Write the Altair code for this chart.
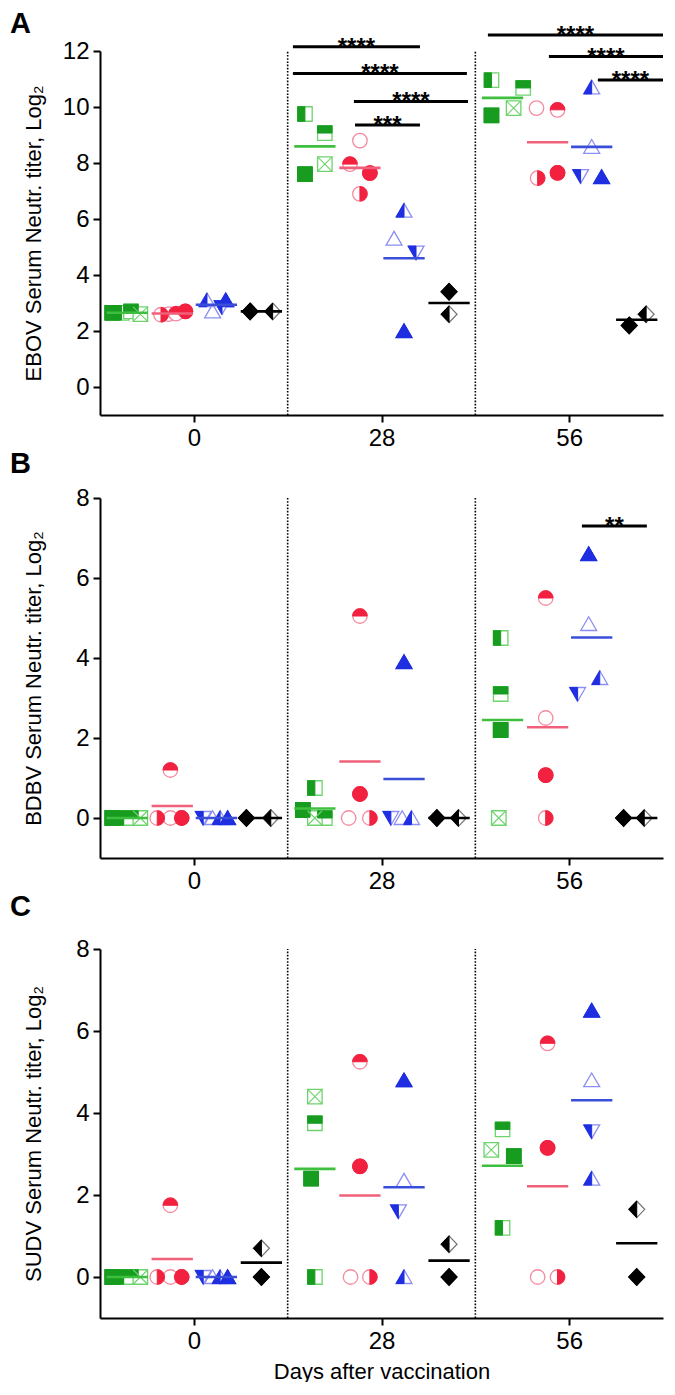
import altair as alt
import pandas as pd

# ---------------- data ----------------
DAY_LABELS = ["0", "28", "56"]
GROUP_KEYS = ["green", "red", "blue", "black"]

# values per group: [day 0, day 28, day 56]; animal order inside each list:
# green: filled, left-half, top-half, crossed | red: filled, open, top-half, right-half
# blue: filled, open, up left-half, down left-half | black: filled, half
EBOV_GREEN = [[2.65, 2.65, 2.70, 2.60], [7.60, 9.75, 9.07, 7.96], [9.70, 10.96, 10.68, 9.96]]
EBOV_RED = [[2.70, 2.60, 2.62, 2.58], [7.64, 8.80, 7.96, 6.90], [7.65, 9.96, 9.90, 7.46]]
EBOV_BLUE = [[3.10, 2.70, 3.10, 2.85], [2.00, 5.30, 6.30, 4.80], [7.50, 8.58, 10.70, 7.53]]
EBOV_BLACK = [[2.70, 2.70], [3.40, 2.60], [2.20, 2.60]]

BDBV_GREEN = [[0, 0, 0, 0], [0.20, 0.75, 0, 0], [2.20, 4.50, 3.10, 0]]
BDBV_RED = [[0, 0, 1.20, 0], [0.60, 0, 5.05, 0], [1.07, 2.50, 5.50, 0]]
BDBV_BLUE = [[0, 0, 0, 0], [3.90, 0, 0, 0], [6.60, 4.85, 3.50, 3.10]]
BDBV_BLACK = [[0, 0], [0, 0], [0, 0]]

SUDV_GREEN = [[0, 0, 0, 0], [2.40, 0, 3.75, 4.40], [2.95, 1.20, 3.60, 3.10]]
SUDV_RED = [[0, 0, 1.75, 0], [2.70, 0, 5.25, 0], [3.15, 0, 5.70, 0]]
SUDV_BLUE = [[0, 0, 0, 0], [4.80, 2.35, 0, 1.60], [6.50, 4.80, 2.40, 3.55]]
SUDV_BLACK = [[0, 0.70], [0, 0.80], [0, 1.65]]

# horizontal scatter of each animal inside its group (x-scale units)
EBOV_GREEN_J = [[-0.08, -0.03, 0.02, 0.07], [-0.053, -0.053, 0.053, 0.053], [-0.059, -0.059, 0.11, 0.059]]
EBOV_RED_J = [[0.07, -0.02, 0.02, -0.06], [0.053, 0, -0.053, 0], [0.053, -0.059, 0.053, -0.053]]
EBOV_BLUE_J = [[0.05, -0.02, -0.05, 0.03], [0, -0.053, 0, 0.064], [0.053, 0, 0, -0.059]]
EBOV_BLACK_J = [[-0.06, 0.06], [0, 0], [-0.04, 0.05]]

BDBV_GREEN_J = [[-0.08, -0.02, 0.02, 0.07], [-0.064, 0, 0.053, 0], [-0.01, -0.01, -0.01, -0.02]]
BDBV_RED_J = [[0.05, -0.01, -0.01, -0.08], [0, -0.06, 0, 0.053], [-0.01, -0.01, -0.01, -0.01]]
BDBV_BLUE_J = [[0.06, -0.02, 0.02, -0.07], [0, -0.01, 0.04, -0.07], [-0.016, -0.016, 0.043, -0.075]]
BDBV_BLACK_J = [[-0.08, 0.05], [-0.065, 0.05], [-0.07, 0.04]]

SUDV_GREEN_J = [[-0.08, -0.02, 0.02, 0.07], [-0.02, 0, 0, 0], [0.06, 0, 0, -0.06]]
SUDV_RED_J = [[0.05, -0.01, -0.01, -0.08], [0, -0.05, 0, 0.053], [0, -0.053, 0, 0.053]]
SUDV_BLUE_J = [[0.06, -0.02, 0.02, -0.07], [0, 0, 0, -0.03], [0, 0, 0, 0]]
SUDV_BLACK_J = [[0, 0], [0, 0], [0, 0]]

# significance bars
EBOV_SIG_TEXT = ["****", "****", "****", "***", "****", "****", "****"]
EBOV_SIG_LEVEL = [12.15, 11.2, 10.2, 9.36, 12.57, 11.8, 10.96]
EBOV_SIG_FROM = [1.028, 1.028, 1.353, 1.359, 2.067, 2.392, 2.653]
EBOV_SIG_TO = [1.705, 1.955, 1.961, 1.705, 3.0, 3.0, 3.0]

BDBV_SIG_TEXT = ["**"]
BDBV_SIG_LEVEL = [7.3]
BDBV_SIG_FROM = [2.568]
BDBV_SIG_TO = [2.914]

# ---------------- styles ----------------
GROUP_OFFSET = {"green": -0.355, "red": -0.115, "blue": 0.12, "black": 0.36}
MEAN_HALF = 0.11
COLORS = {
    "green": {"dark": "#179c20", "light": "#6dd36d", "line": "#3fbf3f"},
    "red": {"dark": "#f2213f", "light": "#f48aa0", "line": "#f0607a"},
    "blue": {"dark": "#1e2ee0", "light": "#8c8ef2", "line": "#3a4ed8"},
    "black": {"dark": "#000000", "light": "#7a7a7a", "line": "#000000"},
}
SQ = "M-1,-1L1,-1L1,1L-1,1Z"
SQ_L = "M-1,-1L0,-1L0,1L-1,1Z"
SQ_T = "M-1,-1L1,-1L1,0L-1,0Z"
CROSS = "M-1,-1L1,1M1,-1L-1,1"
CI = "M-1,0A1,1,0,1,1,1,0A1,1,0,1,1,-1,0Z"
CI_T = "M-1,0A1,1,0,0,1,1,0Z"
CI_R = "M0,-1A1,1,0,0,1,0,1Z"
TU = "M0,-1L1.1,0.9L-1.1,0.9Z"
TU_L = "M0,-1L0,0.9L-1.1,0.9Z"
TD = "M-1.1,-0.9L1.1,-0.9L0,1Z"
TD_L = "M-1.1,-0.9L0,-0.9L0,1Z"
DI = "M0,-1.15L1.1,0L0,1.15L-1.1,0Z"
DI_L = "M0,-1.15L0,1.15L-1.1,0Z"

# (outline path, fill path, outline tone, cross)
MARKERS = {
    "green": [(SQ, SQ, "dark", False), (SQ, SQ_L, "light", False), (SQ, SQ_T, "light", False), (SQ, None, "light", True)],
    "red": [(CI, CI, "dark", False), (CI, None, "light", False), (CI, CI_T, "light", False), (CI, CI_R, "light", False)],
    "blue": [(TU, TU, "dark", False), (TU, None, "light", False), (TU, TU_L, "light", False), (TD, TD_L, "light", False)],
    "black": [(DI, DI, "dark", False), (DI, DI_L, "light", False)],
}

FONT = "Liberation Sans"
W = 563


def make_panel(letter, ytitle, vals, jits, ymax, height, sig, letter_y, xtitle):
    pts, mean_rows = [], []
    for d in range(3):
        for g in GROUP_KEYS:
            center = d + 0.5 + GROUP_OFFSET[g]
            for i, (v, j) in enumerate(zip(vals[g][d], jits[g][d])):
                outline, fillp, tone, cross = MARKERS[g][i]
                pts.append(dict(x=center + j, y=v, outline=outline, fillpath=fillp or "",
                                basestroke=COLORS[g][tone], fillcolor=COLORS[g]["dark"],
                                cross=cross, crosscolor=COLORS[g]["light"]))
                mean_rows.append(dict(day=d, group=g, center=center, y=v, color=COLORS[g]["line"]))
    pdf = pd.DataFrame(pts)
    mdf = pd.DataFrame(mean_rows)

    xs = alt.Scale(domain=[0, 3], nice=False, zero=False)
    ys = alt.Scale(domain=[-1, ymax], nice=False, zero=False)
    label_expr = " : ".join(
        f"datum.value == {k + 0.5} ? '{lab}'" for k, lab in enumerate(DAY_LABELS)) + " : ''"
    xaxis = alt.Axis(values=[0.5, 1.5, 2.5], labelExpr=label_expr, grid=False,
                     title=xtitle if xtitle else None, tickSize=7, labelPadding=4,
                     titlePadding=8)
    yaxis = alt.Axis(values=list(range(0, ymax + 1, 2)), grid=False, title=ytitle,
                     tickSize=7, labelPadding=4, titleX=-55)
    X = alt.X("x:Q", scale=xs, axis=xaxis)
    Y = alt.Y("y:Q", scale=ys, axis=yaxis)

    sep = alt.Chart(pd.DataFrame({"x": [1, 2], "y": [-1, -1], "y2": [ymax, ymax]})).mark_rule(
        color="black", strokeWidth=1.6, strokeDash=[1.6, 1.6]).encode(x=X, y=Y, y2="y2:Q")

    base = alt.Chart(pdf).mark_point(filled=True, opacity=1, strokeWidth=1.3, size=210).encode(
        x=X, y=Y, shape=alt.Shape("outline:N", scale=None),
        fill=alt.value("white"), stroke=alt.Stroke("basestroke:N", scale=None))
    fill = alt.Chart(pdf).transform_filter("datum.fillpath != ''").mark_point(
        filled=True, opacity=1, strokeWidth=1.0, size=210).encode(
        x=X, y=Y, shape=alt.Shape("fillpath:N", scale=None),
        fill=alt.Fill("fillcolor:N", scale=None), stroke=alt.Stroke("fillcolor:N", scale=None))
    cross = alt.Chart(pdf).transform_filter("datum.cross").mark_point(
        filled=False, opacity=1, strokeWidth=1.1, size=210).encode(
        x=X, y=Y, shape=alt.value(CROSS), stroke=alt.Stroke("crosscolor:N", scale=None))

    mean = alt.Chart(mdf).transform_aggregate(
        y="mean(y)", groupby=["day", "group", "center", "color"]).transform_calculate(
        x=f"datum.center - {MEAN_HALF}", x2=f"datum.center + {MEAN_HALF}").mark_rule(
        strokeWidth=2.6).encode(x=X, x2="x2:Q", y=Y, color=alt.Color("color:N", scale=None))

    layers = [sep, base, fill, cross, mean]
    if sig is not None:
        texts, levels, x1, x2 = sig
        sdf = pd.DataFrame({"t": texts, "y": levels, "x": x1, "x2": x2})
        bars = alt.Chart(sdf).mark_rule(color="black", strokeWidth=3).encode(x=X, x2="x2:Q", y=Y)
        stars = alt.Chart(sdf).transform_calculate(xm="(datum.x + datum.x2) / 2").mark_text(
            font=FONT, fontSize=24, fontWeight="bold", baseline="alphabetic", dy=8,
            color="black").encode(x=alt.X("xm:Q", scale=xs, axis=xaxis), y=Y, text="t:N")
        layers += [bars, stars]
    lab = alt.Chart(pd.DataFrame({"t": [letter]})).mark_text(
        font=FONT, fontSize=29, fontWeight="bold", align="left", baseline="top",
        color="black").encode(x=alt.value(-90), y=alt.value(letter_y), text="t:N")
    layers.append(lab)
    return alt.layer(*layers).properties(width=W, height=height)


pa = make_panel("A", "EBOV Serum Neutr. titer, Log₂",
                {"green": EBOV_GREEN, "red": EBOV_RED, "blue": EBOV_BLUE, "black": EBOV_BLACK},
                {"green": EBOV_GREEN_J, "red": EBOV_RED_J, "blue": EBOV_BLUE_J, "black": EBOV_BLACK_J},
                12, 364, (EBOV_SIG_TEXT, EBOV_SIG_LEVEL, EBOV_SIG_FROM, EBOV_SIG_TO), -41, None)
pb = make_panel("B", "BDBV Serum Neutr. titer, Log₂",
                {"green": BDBV_GREEN, "red": BDBV_RED, "blue": BDBV_BLUE, "black": BDBV_BLACK},
                {"green": BDBV_GREEN_J, "red": BDBV_RED_J, "blue": BDBV_BLUE_J, "black": BDBV_BLACK_J},
                8, 360, (BDBV_SIG_TEXT, BDBV_SIG_LEVEL, BDBV_SIG_FROM, BDBV_SIG_TO), -48, None)
pc = make_panel("C", "SUDV Serum Neutr. titer, Log₂",
                {"green": SUDV_GREEN, "red": SUDV_RED, "blue": SUDV_BLUE, "black": SUDV_BLACK},
                {"green": SUDV_GREEN_J, "red": SUDV_RED_J, "blue": SUDV_BLUE_J, "black": SUDV_BLACK_J},
                8, 369, None, -56, "Days after vaccination")

chart = alt.vconcat(pa, pb, pc, spacing=0).configure_view(stroke=None).configure_axis(
    domainColor="black", domainWidth=2, tickColor="black", tickWidth=2,
    labelColor="black", titleColor="black", labelFont=FONT, titleFont=FONT,
    labelFontSize=24, titleFontSize=22, titleFontWeight="normal").properties(
    background="white", padding={"left": 2, "top": 2, "right": 0, "bottom": 0})

chart.save("out.html", embed_options={"renderer": "svg", "actions": False})
